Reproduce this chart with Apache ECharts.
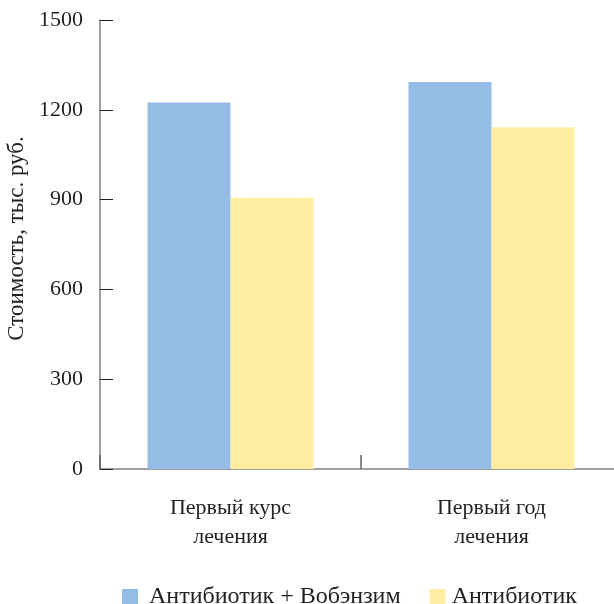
<!DOCTYPE html>
<html>
<head>
<meta charset="utf-8">
<script src="https://cdn.jsdelivr.net/npm/echarts@6/dist/echarts.min.js"></script>
<style>html,body{margin:0;padding:0;background:#fff}#c{width:614px;height:604px}</style>
</head>
<body>
<div id="c"></div>
<script>
const categories = ['Первый курс\nлечения', 'Первый год\nлечения'];
const seriesNames = ['Антибиотик + Вобэнзим', 'Антибиотик'];
const comboValues = [1224, 1293];
const antibioticValues = [906, 1142];
const yTicks = [0, 300, 600, 900, 1200, 1500];

const font = 'Liberation Serif';
const txt = '#231f20';
const chart = echarts.init(document.getElementById('c'), null, {renderer: 'canvas'});
chart.setOption({
  animation: false,
  textStyle: {fontFamily: font, color: txt},
  grid: {left: 100, top: 20, width: 522, height: 449, containLabel: false, outerBoundsMode: 'none'},
  legend: {
    top: 580, left: 117,
    itemWidth: 16, itemHeight: 16, itemGap: 29,
    icon: 'rect',
    textStyle: {fontFamily: font, fontSize: 24, color: txt, padding: [0,0,0,6]},
    data: [
      {name: seriesNames[0]},
      {name: seriesNames[1], textStyle: {padding: [0,0,0,1]}}
    ]
  },
  xAxis: {
    type: 'category',
    data: categories,
    axisLine: {lineStyle: {color: '#808080', width: 1.5}},
    axisTick: {show: true, interval: 0, inside: true, length: 14, lineStyle: {color: '#606060', width: 1.5}},
    axisLabel: {fontFamily: font, fontSize: 22, color: txt, margin: 25, lineHeight: 29, interval: 0}
  },
  yAxis: {
    type: 'value', min: 0, max: 1500, interval: 300,
    name: 'Стоимость, тыс. руб.',
    nameLocation: 'middle', nameGap: 68,
    nameTextStyle: {fontFamily: font, fontSize: 23, color: txt, padding: [0, 0, 0, 12]},
    axisLine: {show: true, lineStyle: {color: '#808080', width: 1.5}},
    axisTick: {show: true, inside: true, length: 13, lineStyle: {color: '#231f20', width: 1}},
    axisLabel: {fontFamily: font, fontSize: 22, color: txt, margin: 17,
      formatter: v => yTicks.includes(v) ? String(v) : ''},
    splitLine: {show: false}
  },
  series: [
    {name: seriesNames[0], type: 'bar', data: comboValues, barWidth: 83, barGap: '0%',
     itemStyle: {color: '#95bce4'}},
    {name: seriesNames[1], type: 'bar', data: antibioticValues, barWidth: 83, barGap: '0%',
     itemStyle: {color: '#ffeca3'}}
  ]
});
</script>
</body>
</html>
